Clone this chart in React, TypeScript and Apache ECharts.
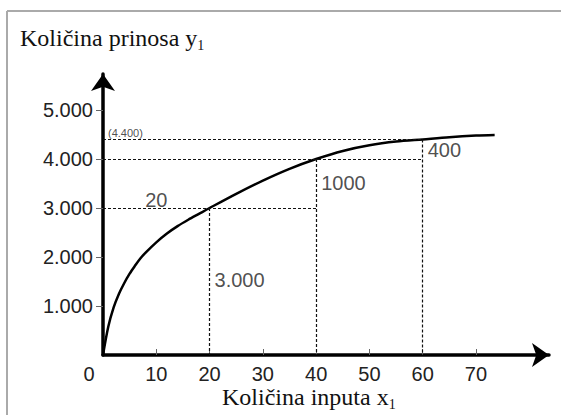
import React, { useEffect, useRef } from 'react';
import * as echarts from 'echarts';

// Curve: quantity of input (x) -> quantity of yield (y)
const xValues = [0, 1, 2, 3, 4, 5, 6, 7, 8, 10, 12, 14, 16, 18, 20, 25, 30, 35, 40, 45, 50, 55, 60, 65, 70, 73.5];
const yValues = [0, 580, 970, 1250, 1470, 1660, 1820, 1970, 2090, 2300, 2480, 2630, 2760, 2880, 3000, 3290, 3560, 3800, 4000, 4165, 4280, 4355, 4400, 4445, 4478, 4492];

// Axis ticks / labels
const xTickValues = [0, 10, 20, 30, 40, 50, 60, 70];
const yTickValues = [1000, 2000, 3000, 4000, 5000];
const yTickLabels = ['1.000', '2.000', '3.000', '4.000', '5.000'];

// Dashed guide lines
const hLineY = [3000, 4000, 4400];
const hLineXEnd = [40, 60, 60];
const vLineX = [20, 40, 60];
const vLineYTop = [3000, 4000, 4400];

// Annotations
const annTexts = ['(4.400)', '20', '1000', '400', '3.000'];
const annX = [0, 10, 40, 60, 20];
const annY = [4400, 3000, 4000, 4400, 1500];

const yTitle = 'Količina prinosa y';
const xTitle = 'Količina inputa x';
const subscript = '1';

const SANS = 'Liberation Sans, Arial, sans-serif';
const SERIF = 'Liberation Serif, Times New Roman, serif';

const annStyles = [
  { fontSize: 11, align: 'left', verticalAlign: 'bottom', offset: [5, -1] },
  { fontSize: 20, align: 'center', verticalAlign: 'bottom', offset: [0, 2] },
  { fontSize: 20, align: 'left', verticalAlign: 'top', offset: [5, 14] },
  { fontSize: 20, align: 'left', verticalAlign: 'top', offset: [5, 1] },
  { fontSize: 20, align: 'left', verticalAlign: 'top', offset: [5, -12] },
];

const titleRich = {
  m: { fontSize: 24, fontFamily: SERIF, fontWeight: 'normal', color: '#111', lineHeight: 28 },
  s: { fontSize: 14, fontFamily: SERIF, fontWeight: 'normal', color: '#111', verticalAlign: 'bottom', lineHeight: 12 },
};

export default function App() {
  const ref = useRef<HTMLDivElement>(null);
  useEffect(() => {
    const chart = echarts.init(ref.current!, null, { renderer: 'svg' });
    const markData: any[] = [];
    hLineY.forEach((y, i) => markData.push([{ coord: [0, y] }, { coord: [hLineXEnd[i], y] }]));
    vLineX.forEach((x, i) => markData.push([{ coord: [x, vLineYTop[i]] }, { coord: [x, 0] }]));

    const option: any = {
      animation: false,
      backgroundColor: '#fff',
      title: [
        {
          text: `{m|${yTitle}}{s|${subscript}}`,
          left: 20,
          top: 24,
          padding: 0,
          textStyle: { fontWeight: 'normal', rich: titleRich },
        },
        {
          text: `{m|${xTitle}}{s|${subscript}}`,
          left: 222,
          top: 383,
          padding: 0,
          textStyle: { fontWeight: 'normal', rich: titleRich },
        },
      ],
      grid: { left: 103, top: 74, width: 446, height: 281, containLabel: false },
      xAxis: {
        type: 'value',
        min: 0,
        max: 83.7,
        splitLine: { show: false },
        axisLine: {
          show: true,
          onZero: false,
          symbol: ['none', 'arrow'],
          symbolSize: [18, 17],
          lineStyle: { color: '#000', width: 3.5 },
        },
        axisTick: {
          show: true,
          inside: true,
          length: 6,
          customValues: xTickValues.filter((v) => v !== 0),
          lineStyle: { color: '#666', width: 1 },
        },
        axisLabel: {
          customValues: xTickValues,
          showMinLabel: true,
          margin: 9,
          fontSize: 20,
          fontFamily: SANS,
          color: '#222',
          formatter: (v: number) => (v === 0 ? '{z|0}' : String(v)),
          rich: { z: { fontSize: 20, fontFamily: SANS, color: '#222', padding: [0, 28, 0, 0] } },
        },
      },
      yAxis: {
        type: 'value',
        min: 0,
        max: 5735,
        splitLine: { show: false },
        axisLine: {
          show: true,
          onZero: false,
          symbol: ['none', 'arrow'],
          symbolSize: [18, 17],
          lineStyle: { color: '#000', width: 3.5 },
        },
        axisTick: {
          show: true,
          inside: false,
          length: 7,
          customValues: yTickValues,
          lineStyle: { color: '#666', width: 1 },
        },
        axisLabel: {
          customValues: yTickValues,
          margin: 10,
          fontSize: 20,
          fontFamily: SANS,
          color: '#222',
          formatter: (v: number) => {
            const i = yTickValues.indexOf(v);
            return i >= 0 ? yTickLabels[i] : '';
          },
        },
      },
      graphic: [
        { type: 'line', shape: { x1: 7, y1: 11, x2: 561, y2: 11 }, style: { stroke: '#aaa', lineWidth: 2 } },
        { type: 'line', shape: { x1: 7, y1: 11, x2: 7, y2: 415 }, style: { stroke: '#aaa', lineWidth: 2 } },
      ],
      series: [
        {
          type: 'line',
          data: xValues.map((x, i) => [x, yValues[i]]),
          showSymbol: false,
          smooth: 0.3,
          lineStyle: { color: '#000', width: 2.5 },
          z: 3,
          markLine: {
            silent: true,
            symbol: ['none', 'none'],
            label: { show: false },
            lineStyle: { color: '#111', width: 1.2, type: [3, 2] },
            data: markData,
          },
        },
        {
          type: 'scatter',
          symbolSize: 0,
          silent: true,
          data: annTexts.map((t, i) => ({
            value: [annX[i], annY[i]],
            label: {
              show: true,
              formatter: t,
              position: [0, 0],
              color: '#222',
              fontFamily: SANS,
              ...annStyles[i],
            },
          })),
        },
      ],
    };
    chart.setOption(option);
    return () => chart.dispose();
  }, []);
  return (
    <div
      ref={ref}
      style={{ position: 'fixed', left: 0, top: 0, width: 561, height: 415, background: '#fff' }}
    />
  );
}
